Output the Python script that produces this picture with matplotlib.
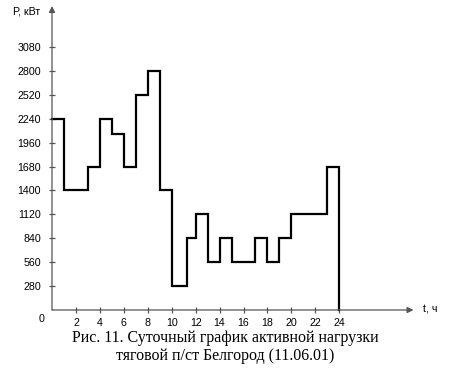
import matplotlib.pyplot as plt
import numpy as np

# hour boundaries and load values (kW) of the daily step chart
hours = [0, 1, 3, 4, 5, 6, 7, 8, 9, 10, 11.3, 12, 13, 14, 15, 17, 18, 19, 20, 23, 24]
load = [2240, 1400, 1680, 2240, 2060, 1680, 2520, 2800, 1400, 280, 840,
        1120, 560, 840, 560, 840, 560, 840, 1120, 1680]

x_ticks = [2, 4, 6, 8, 10, 12, 14, 16, 18, 20, 22, 24]
y_ticks = [280, 560, 840, 1120, 1400, 1680, 1960, 2240, 2520, 2800, 3080]

AXIS_COLOR = '#555555'

fig = plt.figure(figsize=(4.6, 3.69), dpi=100)
ax = fig.add_axes([52 / 460, 59 / 369, 0.7937, 0.833])
ax.set_xlim(0, 30.5)
ax.set_ylim(0, 3600)
for s in ax.spines.values():
    s.set_visible(False)

# step line, ending with a drop to zero at 24 h
xs = np.repeat(hours, 2)[1:-1]
ys = np.repeat(load, 2)
xs = np.append(xs, hours[-1])
ys = np.append(ys, 0)
ax.plot(xs, ys, color='black', lw=1.6, solid_joinstyle='miter', clip_on=False, zorder=3)

# axes with arrows
ax.annotate('', xy=(30.2, 0), xytext=(0, 0),
            arrowprops=dict(arrowstyle='-|>', color=AXIS_COLOR, lw=0.9,
                            mutation_scale=9, shrinkA=0, shrinkB=0))
ax.annotate('', xy=(0, 3560), xytext=(0, 0),
            arrowprops=dict(arrowstyle='-|>', color=AXIS_COLOR, lw=0.9,
                            mutation_scale=9, shrinkA=0, shrinkB=0))

ax.set_xticks(x_ticks)
ax.set_yticks(y_ticks)
ax.tick_params(direction='inout', length=5, width=0.9, color=AXIS_COLOR,
               labelsize=7.7)
ax.tick_params(axis='y', pad=5.5)
ax.tick_params(axis='x', pad=3.5)
for lab in ax.get_xticklabels() + ax.get_yticklabels():
    lab.set_family('Liberation Sans')

ax.text(-0.85, -100, '0', ha='center', va='center', fontsize=7.7, family='Liberation Sans')
ax.text(-3.25, 3500, 'Р, кВт', ha='left', va='center', fontsize=7.7, family='Liberation Sans')
ax.text(31.0, 0, 't, ч', ha='left', va='center', fontsize=7.7, family='Liberation Sans')

fig.text(225 / 460, 1 - 338 / 369, 'Рис. 11. Суточный график активной нагрузки',
         ha='center', va='center', fontsize=11.5, family='Liberation Serif')
fig.text(225 / 460, 1 - 356 / 369, 'тяговой п/ст Белгород (11.06.01)',
         ha='center', va='center', fontsize=11.5, family='Liberation Serif')

fig.savefig('out.png', dpi=100)
